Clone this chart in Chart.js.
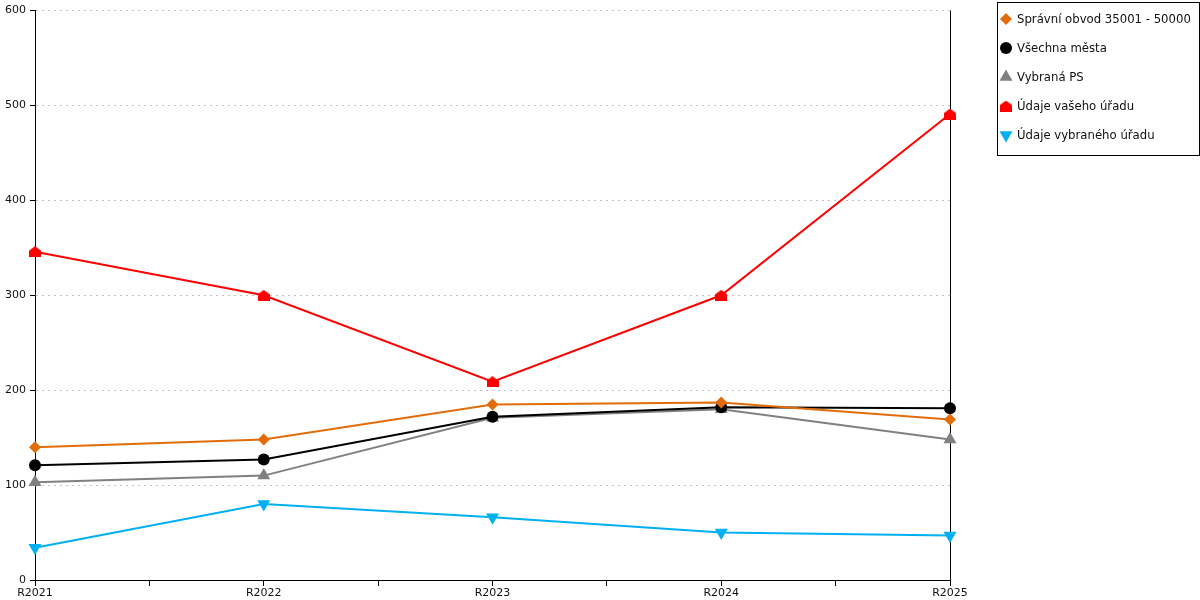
<!DOCTYPE html>
<html lang="cs">
<head>
<meta charset="utf-8">
<title>Vývoj ukazatele</title>
<script src="https://cdn.jsdelivr.net/npm/chart.js@4/dist/chart.umd.min.js"></script>
<style>
    html, body { margin: 0; padding: 0; background: #fff; }
    #wrap { width: 1200px; height: 600px; }
</style>
</head>
<body>
<div id="wrap"><canvas id="chart" width="1200" height="600"></canvas></div>
<script>
// Kategorie a hodnoty řad
const categories = ['R2021', 'R2022', 'R2023', 'R2024', 'R2025'];
const spravniObvod = [140, 148, 185, 187, 169];
const vsechnaMesta = [121, 127, 172, 182, 181];
const vybranaPS = [103, 110, 171, 180, 148];
const udajeVasehoUradu = [346, 300, 209, 300, 491];
const udajeVybranehoUradu = [34, 80, 66, 50, 47];

const yTicks = [0, 100, 200, 300, 400, 500, 600];

// Marker "domeček" pro údaje vašeho úřadu
function makeHouse(color) {
    const c = document.createElement('canvas');
    c.width = 12;
    c.height = 11;
    const ctx = c.getContext('2d');
    ctx.fillStyle = color;
    ctx.beginPath();
    ctx.moveTo(6, 0);
    ctx.lineTo(12, 4.5);
    ctx.lineTo(12, 11);
    ctx.lineTo(0, 11);
    ctx.lineTo(0, 4.5);
    ctx.closePath();
    ctx.fill();
    return c;
}

const house = makeHouse('#ff0000');

function toPoints(values) {
    return values.map((v, i) => ({ x: i, y: v }));
}

function series(label, values, color, style, radius, rotation) {
    return {
        label: label,
        data: toPoints(values),
        borderColor: color,
        backgroundColor: color,
        pointBackgroundColor: color,
        pointBorderColor: color,
        pointBorderWidth: 0,
        borderWidth: 2,
        tension: 0,
        clip: false,
        pointStyle: style,
        pointRadius: radius,
        pointHoverRadius: radius,
        pointRotation: rotation || 0
    };
}

const datasets = [
    series('Správní obvod 35001 - 50000', spravniObvod, '#e36c0a', 'rectRot', 6),
    series('Všechna města', vsechnaMesta, '#000000', 'circle', 6),
    series('Vybraná PS', vybranaPS, '#808080', 'triangle', 7.5),
    series('Údaje vašeho úřadu', udajeVasehoUradu, '#ff0000', house, 6),
    series('Údaje vybraného úřadu', udajeVybranehoUradu, '#00b0f0', 'triangle', 7.5, 180)
];

// Pravý okraj grafu + vlastní legenda v rámečku
const framePlugin = {
    id: 'frame',
    beforeDatasetsDraw(chart) {
        const { ctx, chartArea } = chart;
        ctx.save();
        ctx.strokeStyle = '#000';
        ctx.lineWidth = 1;
        ctx.beginPath();
        ctx.moveTo(Math.round(chartArea.right) + 0.5, chartArea.top);
        ctx.lineTo(Math.round(chartArea.right) + 0.5, chartArea.bottom);
        ctx.stroke();
        ctx.restore();
    },
    afterDraw(chart) {
        const { ctx } = chart;
        ctx.save();
        // legenda
        const boxX = 997.5, boxY = 2.5, boxW = 202, boxH = 153;
        ctx.strokeStyle = '#000';
        ctx.lineWidth = 1;
        ctx.strokeRect(boxX, boxY, boxW, boxH);
        ctx.font = '11.7px "DejaVu Sans", Verdana, sans-serif';
        ctx.textBaseline = 'middle';
        ctx.textAlign = 'left';
        chart.data.datasets.forEach((ds, i) => {
            const cy = 19 + i * 29;
            const cx = 1006;
            ctx.fillStyle = ds.pointBackgroundColor;
            ctx.strokeStyle = ds.pointBorderColor;
            Chart.helpers.drawPoint(ctx, {
                pointStyle: ds.pointStyle,
                rotation: ds.pointRotation,
                radius: ds.pointRadius,
                borderWidth: 0
            }, cx, cy);
            ctx.fillStyle = '#111';
            ctx.fillText(ds.label, 1017, cy + 1);
        });
        ctx.restore();
    }
};

new Chart(document.getElementById('chart'), {
    type: 'line',
    data: { datasets: datasets },
    options: {
        responsive: false,
        animation: false,
        devicePixelRatio: 1,
        layout: { padding: { left: 0, top: 10, right: 250, bottom: 0 } },
        plugins: {
            legend: { display: false },
            tooltip: { enabled: false }
        },
        scales: {
            x: {
                type: 'linear',
                min: 0,
                max: categories.length - 1,
                afterFit: s => { s.height = 20; },
                afterBuildTicks: s => {
                    const t = [];
                    for (let v = 0; v <= categories.length - 1; v += 0.5) t.push({ value: v });
                    s.ticks = t;
                },
                ticks: {
                    autoSkip: false,
                    maxRotation: 0,
                    padding: 1,
                    color: '#111',
                    font: { family: '"DejaVu Sans", Verdana, sans-serif', size: 11 },
                    callback: v => Number.isInteger(v) ? categories[v] : ''
                },
                grid: {
                    drawOnChartArea: false,
                    tickLength: 6,
                    tickColor: '#000'
                },
                border: { display: true, color: '#000', width: 1 }
            },
            y: {
                min: 0,
                max: 600,
                afterFit: s => { s.width = 35; },
                afterBuildTicks: s => { s.ticks = yTicks.map(v => ({ value: v })); },
                ticks: {
                    padding: 4,
                    color: '#111',
                    font: { family: '"DejaVu Sans", Verdana, sans-serif', size: 11 }
                },
                grid: {
                    color: '#c0c0c0',
                    tickColor: '#000',
                    tickLength: 5,
                    tickBorderDash: []
                },
                border: { display: true, color: '#000', width: 1, dash: [2, 4] }
            }
        }
    },
    plugins: [framePlugin]
});
</script>
</body>
</html>
